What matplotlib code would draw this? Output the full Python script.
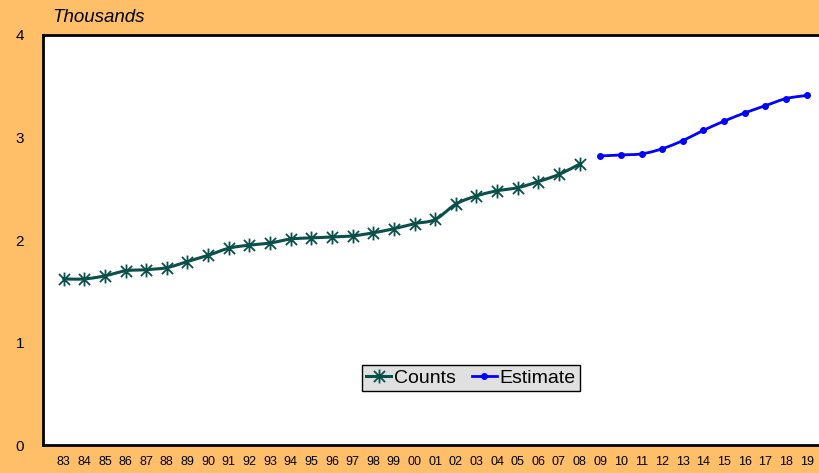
import matplotlib.pyplot as plt
import numpy as np
from matplotlib.path import Path

plt.rcParams['font.family'] = ['Liberation Sans', 'DejaVu Sans']

# data (thousands)
years = ['83', '84', '85', '86', '87', '88', '89', '90', '91', '92', '93', '94',
         '95', '96', '97', '98', '99', '00', '01', '02', '03', '04', '05', '06',
         '07', '08', '09', '10', '11', '12', '13', '14', '15', '16', '17', '18', '19']
counts = [1.62, 1.62, 1.65, 1.70, 1.71, 1.73, 1.79, 1.85, 1.92, 1.95, 1.97, 2.01,
          2.02, 2.03, 2.04, 2.07, 2.11, 2.16, 2.20, 2.35, 2.43, 2.48, 2.51, 2.57,
          2.64, 2.74]
estimate = [2.82, 2.83, 2.84, 2.89, 2.97, 3.07, 3.16, 3.24, 3.31, 3.38, 3.41]

bg = '#FFBF69'
teal = '#0A4F4A'
blue = '#0000FF'


def smooth(x, y, n=20):
    # Catmull-Rom style curve through the points, like Excel's smoothed line
    x = np.asarray(x, float)
    y = np.asarray(y, float)
    px = np.concatenate([[x[0]], x, [x[-1]]])
    py = np.concatenate([[y[0]], y, [y[-1]]])
    xs, ys = [], []
    t = np.linspace(0, 1, n, endpoint=False)
    for i in range(1, len(px) - 2):
        for arr, out in ((px, xs), (py, ys)):
            p0, p1, p2, p3 = arr[i - 1], arr[i], arr[i + 1], arr[i + 2]
            c1 = p1 + (p2 - p0) / 6
            c2 = p2 - (p3 - p1) / 6
            out.extend((1 - t) ** 3 * p1 + 3 * (1 - t) ** 2 * t * c1
                       + 3 * (1 - t) * t ** 2 * c2 + t ** 3 * p2)
    xs.append(x[-1])
    ys.append(y[-1])
    return np.array(xs), np.array(ys)


# star marker: vertical bar plus an X
star = Path([(0, -1), (0, 1), (-0.8, -0.8), (0.8, 0.8), (-0.8, 0.8), (0.8, -0.8)],
            [Path.MOVETO, Path.LINETO, Path.MOVETO, Path.LINETO, Path.MOVETO, Path.LINETO])

fig = plt.figure(figsize=(8.2, 4.73), dpi=100, facecolor=bg)
ax = fig.add_axes([43 / 820, 28 / 473, 784.3 / 820, 410 / 473])
ax.set_facecolor('white')

xc = np.arange(len(counts))
xe = np.arange(len(counts), len(years))

sx, sy = smooth(xc, counts)
ax.plot(sx, sy, color=teal, lw=2.2, solid_capstyle='round')
ax.plot(xc, counts, ls='none', marker=star, ms=10, mew=1.3, color=teal)
ex, ey = smooth(xe, estimate)
ax.plot(ex, ey, color=blue, lw=2.0, solid_capstyle='round')
ax.plot(xe, estimate, ls='none', marker='o', ms=4, color=blue)

# legend proxies
ax.plot([], [], color=teal, lw=2.2, marker=star, ms=10, mew=1.3, label='Counts')
ax.plot([], [], color=blue, lw=2.0, marker='o', ms=4, label='Estimate')
leg = ax.legend(loc='center', bbox_to_anchor=((471 - 43) / 784.3, (445 - 378) / 410),
                ncol=2, frameon=True, fancybox=False, fontsize=14,
                handlelength=1.3, handletextpad=0.15, columnspacing=0.8,
                borderpad=0.2, borderaxespad=0)
leg.get_frame().set_facecolor('#E0E0E0')
leg.get_frame().set_edgecolor('black')
leg.get_frame().set_linewidth(1.0)
leg.get_frame().set_alpha(1)

ax.set_xlim(-1, len(years))
ax.set_ylim(0, 4)
ax.set_xticks(np.arange(len(years)))
ax.set_xticklabels(years, fontsize=9)
ax.set_yticks([0, 1, 2, 3, 4])
ax.set_yticklabels(['0', '1', '2', '3', '4'], fontsize=11)
ax.tick_params(axis='both', length=0)
ax.tick_params(axis='y', pad=13.5)
ax.tick_params(axis='x', pad=8)

for side in ('left', 'bottom', 'top'):
    ax.spines[side].set_linewidth(2)
    ax.spines[side].set_color('black')
ax.spines['right'].set_visible(False)

fig.text(52 / 820, 1 - 18 / 473, 'Thousands', fontsize=13.5, style='italic',
         ha='left', va='center')

fig.savefig('out.png', dpi=100, facecolor=bg)
